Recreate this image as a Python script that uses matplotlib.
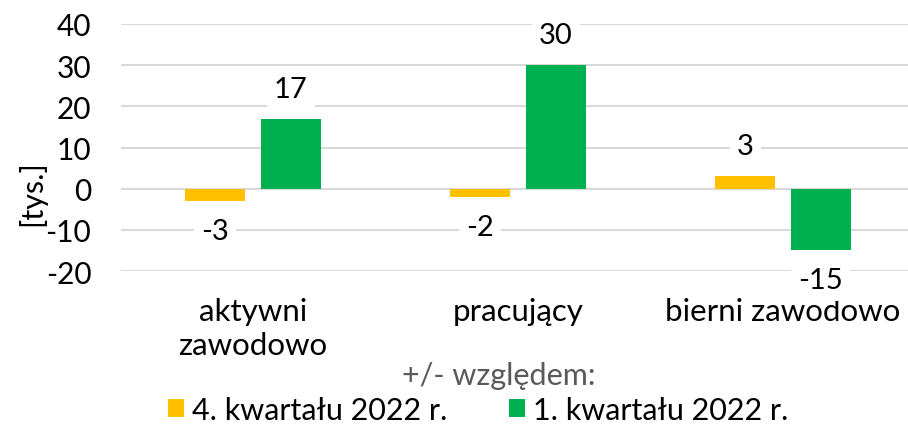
import numpy as np
import matplotlib
matplotlib.use("Agg")
import matplotlib.pyplot as plt

plt.rcParams['font.family'] = ['Lato', 'DejaVu Sans']
plt.rcParams['axes.unicode_minus'] = False

categories = ["aktywni\nzawodowo", "pracujący", "bierni zawodowo"]
series_names = ["4. kwartału 2022 r.", "1. kwartału 2022 r."]
q4_values = [-3, -2, 3]
q1_values = [17, 30, -15]
colors = ["#FFC000", "#00B050"]

fig = plt.figure(figsize=(9.08, 4.27), dpi=100)
ax = fig.add_axes([120.5 / 908, 155 / 427, 795 / 908, 247 / 427])

x = np.arange(len(categories))
w = 0.225
off = 0.1425
for vals, c, name, dx in [(q4_values, colors[0], series_names[0], -off),
                          (q1_values, colors[1], series_names[1], off)]:
    bars = ax.bar(x + dx, vals, width=w, color=c, label=name, zorder=3)
    for b, v in zip(bars, vals):
        sign = 1 if v >= 0 else -1
        ax.annotate(str(v), (b.get_x() + b.get_width() / 2, v),
                    xytext=(0, 30 * sign), textcoords='offset pixels',
                    ha='center', va='center', fontsize=21, color='#000000',
                    bbox=dict(boxstyle='square,pad=0.25', fc='white', ec='none'),
                    zorder=4)

ax.set_xlim(-0.5, len(categories) - 0.5)
ax.set_ylim(-20, 40)
ax.set_yticks(np.arange(-20, 41, 10))
ax.yaxis.grid(True, color='#D9D9D9', linewidth=1.5, zorder=0)
ax.set_axisbelow(True)
for s in ax.spines.values():
    s.set_visible(False)
ax.tick_params(axis='both', length=0)
ax.tick_params(axis='y', pad=21, labelsize=21.5)
ax.tick_params(axis='x', pad=19, labelsize=22.5)
ax.set_xticks(x)
ax.set_xticklabels(categories, linespacing=1.25)

# y label sits a bit below the axis centre in the original
fig.text(32 / 908, 1 - 193 / 427, "[tys.]", rotation=90, ha='center', va='center',
         fontsize=22)

fig.text(499 / 908, 1 - 376 / 427, "+/- względem:", ha='center', va='center',
         fontsize=22, color='#595959')
fig.legend(loc='center', bbox_to_anchor=(478 / 908, 1 - 411 / 427), ncol=2,
           frameon=False, fontsize=22, handlelength=0.55, handleheight=0.55,
           handletextpad=0.25, columnspacing=2.0, borderaxespad=0)

fig.savefig("out.png", dpi=100)
